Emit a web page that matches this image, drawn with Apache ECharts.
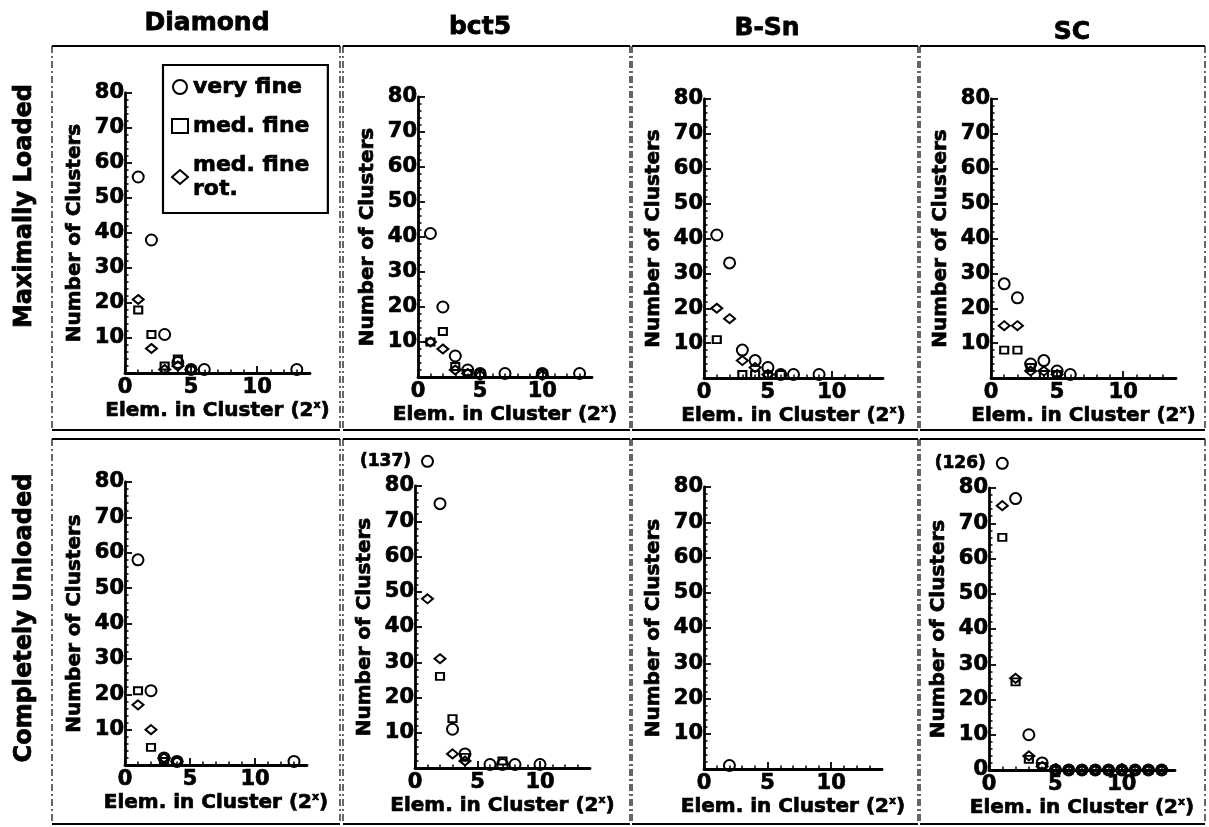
<!DOCTYPE html>
<html>
<head>
<meta charset="utf-8">
<title>Cluster size distributions</title>
<script src="https://cdn.jsdelivr.net/npm/echarts@6/dist/echarts.min.js"></script>
<style>
  html, body { margin: 0; padding: 0; background: #ffffff; }
  #chart { width: 1209px; height: 827px; }
</style>
</head>
<body>
<div id="chart"></div>
<script>
// Column headings (structure) and row headings (loading state)
const columnTitles = ['Diamond', 'bct5', 'B-Sn', 'SC'];
const rowTitles = ['Maximally Loaded', 'Completely Unloaded'];
const seriesNames = ['very fine', 'med. fine', 'med. fine rot.'];

// Axis ranges and tick values
const xTickValues = [0, 5, 10];
const yMax = 80;
const yInterval = 10;

// Each point: [cluster size exponent x (2^x elements), number of clusters]
// Maximally loaded
const diamondLoadedVeryFine = [[1, 56], [2, 38], [3, 11], [4, 3], [5, 1], [6, 1], [13, 1]];
const diamondLoadedMedFine = [[1, 18], [2, 11], [3, 2], [4, 4], [5, 1]];
const diamondLoadedMedFineRot = [[1, 21], [2, 7], [3, 1], [4, 2], [5, 1]];

const bct5LoadedVeryFine = [[1, 41], [2, 20], [3, 6], [4, 2], [5, 1], [7, 1], [10, 1], [13, 1]];
const bct5LoadedMedFine = [[1, 10], [2, 13], [3, 3], [4, 1], [5, 1], [10, 1]];
const bct5LoadedMedFineRot = [[1, 10], [2, 8], [3, 2], [4, 1], [5, 0.5], [10, 0.5]];

const bsnLoadedVeryFine = [[1, 41], [2, 33], [3, 8], [4, 5], [5, 3], [6, 1], [7, 1], [9, 1]];
const bsnLoadedMedFine = [[1, 11], [3, 1], [4, 1], [5, 1], [6, 1]];
const bsnLoadedMedFineRot = [[1, 20], [2, 17], [3, 5], [4, 3], [5, 1]];

const scLoadedVeryFine = [[1, 27], [2, 23], [3, 4], [4, 5], [5, 2], [6, 1]];
const scLoadedMedFine = [[1, 8], [2, 8], [3, 3], [4, 1], [5, 1]];
const scLoadedMedFineRot = [[1, 15], [2, 15], [3, 2], [4, 2], [5, 1]];

// Completely unloaded
const diamondUnloadedVeryFine = [[1, 58], [2, 21], [3, 2], [4, 1], [13, 1]];
const diamondUnloadedMedFine = [[1, 21], [2, 5], [3, 1], [4, 1]];
const diamondUnloadedMedFineRot = [[1, 17], [2, 10], [3, 2], [4, 1]];

const bct5UnloadedVeryFine = [[1, 137], [2, 75], [3, 11], [4, 4], [6, 1], [7, 1], [8, 1], [10, 1]];
const bct5UnloadedMedFine = [[2, 26], [3, 14], [4, 3], [7, 2]];
const bct5UnloadedMedFineRot = [[1, 48], [2, 31], [3, 4], [4, 2]];

const bsnUnloadedVeryFine = [[2, 1]];
const bsnUnloadedMedFine = [];
const bsnUnloadedMedFineRot = [];

const scUnloadedVeryFine = [[1, 126], [2, 77], [3, 10], [4, 2], [5, 0], [6, 0], [7, 0], [8, 0], [9, 0], [10, 0], [11, 0], [12, 0], [13, 0]];
const scUnloadedMedFine = [[1, 66], [2, 25], [3, 3], [4, 1], [5, 0], [6, 0], [7, 0], [8, 0], [9, 0], [10, 0], [11, 0], [12, 0], [13, 0]];
const scUnloadedMedFineRot = [[1, 75], [2, 26], [3, 4], [4, 1], [5, 0], [6, 0], [7, 0], [8, 0], [9, 0], [10, 0], [11, 0], [12, 0], [13, 0]];

// Counts above the axis range are drawn just above its top, marked with their value
const offScaleY = 87;

const FONT = 'DejaVu Sans';
const BLACK = '#000000';
// thin outline on text gives the heavy look of the lettering
const heavy = { textBorderColor: BLACK, textBorderWidth: 0.7 };

// Panel placement: grid box (pixels) for each plot
const panels = [
  { row: 0, col: 0, grid: { left: 125, top: 93, width: 185, height: 280 }, sets: [diamondLoadedVeryFine, diamondLoadedMedFine, diamondLoadedMedFineRot] },
  { row: 0, col: 1, grid: { left: 418, top: 97, width: 174, height: 280 }, sets: [bct5LoadedVeryFine, bct5LoadedMedFine, bct5LoadedMedFineRot] },
  { row: 0, col: 2, grid: { left: 704, top: 99, width: 179, height: 279 }, sets: [bsnLoadedVeryFine, bsnLoadedMedFine, bsnLoadedMedFineRot] },
  { row: 0, col: 3, grid: { left: 991, top: 99, width: 185, height: 279 }, sets: [scLoadedVeryFine, scLoadedMedFine, scLoadedMedFineRot] },
  { row: 1, col: 0, grid: { left: 125, top: 482, width: 182, height: 283 }, sets: [diamondUnloadedVeryFine, diamondUnloadedMedFine, diamondUnloadedMedFineRot] },
  { row: 1, col: 1, grid: { left: 415, top: 486, width: 175, height: 282 }, sets: [bct5UnloadedVeryFine, bct5UnloadedMedFine, bct5UnloadedMedFineRot] },
  { row: 1, col: 2, grid: { left: 704, top: 487, width: 178, height: 282 }, sets: [bsnUnloadedVeryFine, bsnUnloadedMedFine, bsnUnloadedMedFineRot] },
  { row: 1, col: 3, grid: { left: 989, top: 488, width: 186, height: 282 }, sets: [scUnloadedVeryFine, scUnloadedMedFine, scUnloadedMedFineRot], showZero: true }
];

// Marker shape for each series
const markers = [
  { symbol: 'circle', size: 11 },
  { symbol: 'rect', size: [8, 7] },
  { symbol: 'diamond', size: [11, 9] }
];

const labelText = Object.assign({ color: BLACK, fontFamily: FONT, fontWeight: 'bold', fontSize: 21 }, heavy);

const grids = [], xAxes = [], yAxes = [], series = [];

panels.forEach((p, i) => {
  grids.push(Object.assign({ containLabel: false, outerBoundsMode: 'none' }, p.grid));

  xAxes.push({
    type: 'value', gridIndex: i, min: 0, max: 14, interval: 5,
    name: 'Elem. in Cluster (2{sup|x})',
    nameLocation: 'middle', nameGap: 23,
    nameTextStyle: Object.assign({
      color: BLACK, fontFamily: FONT, fontWeight: 'bold', fontSize: 20,
      rich: { sup: { color: BLACK, fontFamily: FONT, fontWeight: 'bold', fontSize: 11, padding: [0, 0, 11, 0] } }
    }, heavy),
    axisLine: { show: true, onZero: false, lineStyle: { color: BLACK, width: 2.8 } },
    axisTick: { show: true, inside: true, length: 7, customValues: xTickValues, lineStyle: { color: BLACK, width: 1.8 } },
    minorTick: { show: true, splitNumber: 5, length: 3.5, lineStyle: { color: BLACK, width: 1.5 } },
    axisLabel: Object.assign({ margin: 4, customValues: xTickValues }, labelText),
    splitLine: { show: false }
  });

  yAxes.push({
    type: 'value', gridIndex: i, min: 0, max: yMax, interval: yInterval,
    name: 'Number of Clusters',
    nameLocation: 'middle', nameRotate: 90, nameGap: 40,
    nameTextStyle: Object.assign({ color: BLACK, fontFamily: FONT, fontWeight: 'bold', fontSize: 20 }, heavy),
    axisLine: { show: true, onZero: false, lineStyle: { color: BLACK, width: 2.8 } },
    axisTick: { show: true, inside: true, length: 7, lineStyle: { color: BLACK, width: 1.8 } },
    minorTick: { show: true, splitNumber: 5, length: 3.5, lineStyle: { color: BLACK, width: 1.5 } },
    axisLabel: Object.assign({
      margin: 1,
      formatter: v => (v === 0 && !p.showZero) ? '' : String(v)
    }, labelText),
    splitLine: { show: false }
  });

  p.sets.forEach((set, k) => {
    series.push({
      type: 'scatter',
      name: seriesNames[k],
      xAxisIndex: i, yAxisIndex: i,
      symbol: markers[k].symbol,
      symbolSize: markers[k].size,
      clip: false,
      silent: true,
      itemStyle: { color: 'rgba(255,255,255,0)', borderColor: BLACK, borderWidth: 2, opacity: 1 },
      label: { show: false },
      data: set.map(([x, n]) => n > yMax
        ? {
            value: [x, offScaleY],
            label: Object.assign({
              show: true, position: 'left', distance: 10,
              formatter: '(' + n + ')',
              color: BLACK, fontFamily: FONT, fontWeight: 'bold', fontSize: 17
            }, heavy)
          }
        : { value: [x, n] })
    });
  });
});

// Panel frames, column headings and row headings
const frameCols = [[52, 340], [343, 630], [632, 918], [920, 1205]];
const frameRows = [[46, 430], [439, 824]];
const graphics = [];
frameRows.forEach(([y0, y1]) => {
  frameCols.forEach(([x0, x1]) => {
    graphics.push({ type: 'line', silent: true, shape: { x1: x0, y1: y0, x2: x1, y2: y0 }, style: { stroke: BLACK, lineWidth: 2 } });
    graphics.push({ type: 'line', silent: true, shape: { x1: x0, y1: y1, x2: x1, y2: y1 }, style: { stroke: BLACK, lineWidth: 2 } });
    graphics.push({ type: 'line', silent: true, shape: { x1: x0, y1: y0, x2: x0, y2: y1 }, style: { stroke: BLACK, lineWidth: 1.2, lineDash: [7, 3, 2, 3] } });
    graphics.push({ type: 'line', silent: true, shape: { x1: x1, y1: y0, x2: x1, y2: y1 }, style: { stroke: BLACK, lineWidth: 1.2, lineDash: [7, 3, 2, 3] } });
  });
});

const columnTitlePos = [[207, 23], [480, 27], [767, 28], [1072, 32]];
columnTitles.forEach((t, c) => {
  graphics.push({
    type: 'text', silent: true, x: columnTitlePos[c][0], y: columnTitlePos[c][1],
    style: { text: t, fill: BLACK, stroke: BLACK, lineWidth: 0.8, font: 'bold 25px "DejaVu Sans"', align: 'center', verticalAlign: 'middle' }
  });
});

const rowTitlePos = [[25, 206], [25, 618]];
rowTitles.forEach((t, r) => {
  graphics.push({
    type: 'text', silent: true, x: rowTitlePos[r][0], y: rowTitlePos[r][1], rotation: Math.PI / 2,
    style: { text: t, fill: BLACK, stroke: BLACK, lineWidth: 0.8, font: 'bold 24px "DejaVu Sans"', align: 'center', verticalAlign: 'middle' }
  });
});

const chart = echarts.init(document.getElementById('chart'), null, { renderer: 'canvas' });
chart.setOption({
  backgroundColor: '#ffffff',
  animation: false,
  grid: grids,
  xAxis: xAxes,
  yAxis: yAxes,
  series: series,
  legend: {
    data: seriesNames,
    orient: 'vertical',
    left: 163, top: 65,
    borderColor: BLACK, borderWidth: 2.2,
    padding: [10, 18, 12, 8],
    itemGap: 15,
    itemWidth: 16, itemHeight: 14,
    selectedMode: false,
    itemStyle: { borderWidth: 2 },
    formatter: name => name === 'med. fine rot.' ? 'med. fine\nrot.' : name,
    textStyle: Object.assign({ color: BLACK, fontFamily: FONT, fontWeight: 'bold', fontSize: 22, lineHeight: 24 }, heavy)
  },
  graphic: graphics
});
</script>
</body>
</html>
